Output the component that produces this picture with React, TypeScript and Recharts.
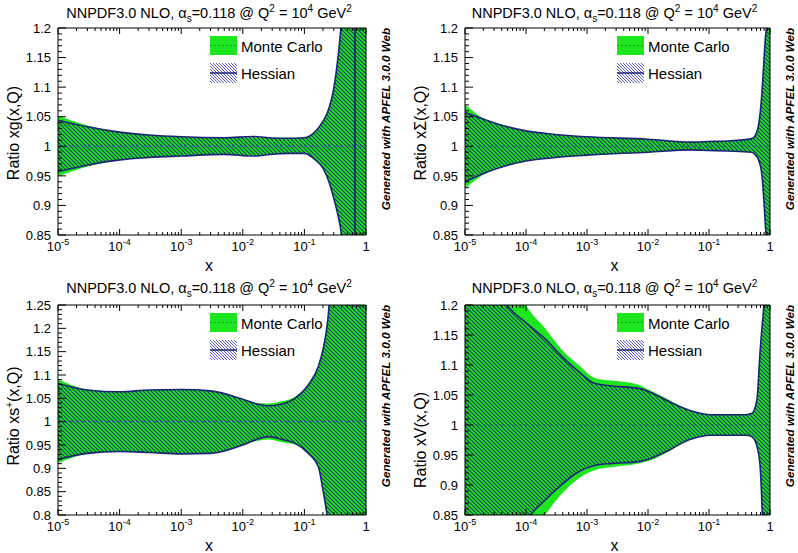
import React from "react";
import { ComposedChart, Area, XAxis, YAxis, ReferenceLine } from "recharts";

const FONT = '"Liberation Sans", Arial, Helvetica, sans-serif';
const GREEN = "#1ee61e";
const GREEN_DARK = "#0e9a2a";
const NAVY = "#1b2474";
const HATCH = "#173d62";
const CENTER_LINE = "#3a48b0";

// x axis (log): decades and minor steps
const DECADES = [1e-5, 1e-4, 1e-3, 1e-2, 1e-1, 1];
const MINOR_STEPS = [2, 3, 4, 5, 6, 7, 8, 9];
const X_TICKS = DECADES.concat(
  DECADES.slice(0, -1).flatMap((d) => MINOR_STEPS.map((m) => d * m))
);
const CENTRAL_VALUE = 1;

// --- gluon xg ---
const G_X = [1e-5, 3e-5, 1e-4, 3e-4, 1e-3, 5e-3, 1.5e-2, 3e-2, 5e-2, 0.1, 0.15, 0.2, 0.25, 0.3, 0.35, 0.4, 0.45, 0.55, 0.66, 1];
const G_MC_LO = [0.949, 0.966, 0.977, 0.981, 0.9835, 0.9864, 0.985, 0.9865, 0.988, 0.988, 0.977, 0.963, 0.94, 0.912, 0.884, 0.85, 0.79, 0.6, 0.3, 0.3];
const G_MC_HI = [1.052, 1.035, 1.024, 1.019, 1.016, 1.0145, 1.015, 1.014, 1.0135, 1.0145, 1.025, 1.042, 1.064, 1.098, 1.149, 1.215, 1.33, 1.6, 2.0, 2.0];
const G_H_LO = [0.957, 0.968, 0.977, 0.981, 0.9835, 0.9864, 0.9835, 0.9865, 0.988, 0.988, 0.977, 0.963, 0.94, 0.912, 0.884, 0.85, 0.79, 0.6, 0.3, 0.3];
const G_H_HI = [1.044, 1.033, 1.024, 1.019, 1.016, 1.0145, 1.0165, 1.014, 1.0135, 1.0145, 1.025, 1.042, 1.064, 1.098, 1.149, 1.215, 1.33, 1.6, 2.0, 2.0];
const G_POLE_X = 0.66;
const G_Y_TICKS = [0.85, 0.9, 0.95, 1, 1.05, 1.1, 1.15, 1.2];

// --- singlet xSigma ---
const S_X = [1e-5, 2e-5, 5e-5, 1e-4, 3e-4, 1e-3, 1e-2, 5e-2, 0.1, 0.2, 0.5, 0.58, 0.65, 0.74, 0.79, 0.84, 0.89, 0.95, 1];
const S_MC_LO = [0.929, 0.952, 0.968, 0.975, 0.981, 0.985, 0.99, 0.994, 0.993, 0.992, 0.99, 0.985, 0.977, 0.95, 0.912, 0.867, 0.82, 0.6, 0.3];
const S_MC_HI = [1.071, 1.047, 1.033, 1.026, 1.02, 1.016, 1.012, 1.007, 1.008, 1.009, 1.013, 1.019, 1.036, 1.092, 1.14, 1.183, 1.21, 1.5, 2.0];
const S_H_LO = [0.94, 0.954, 0.968, 0.975, 0.981, 0.985, 0.99, 0.994, 0.993, 0.992, 0.99, 0.985, 0.977, 0.95, 0.912, 0.867, 0.82, 0.6, 0.3];
const S_H_HI = [1.057, 1.046, 1.033, 1.026, 1.02, 1.016, 1.012, 1.007, 1.008, 1.009, 1.013, 1.019, 1.036, 1.092, 1.14, 1.183, 1.21, 1.5, 2.0];
const S_Y_TICKS = [0.85, 0.9, 0.95, 1, 1.05, 1.1, 1.15, 1.2];

// --- strange xs+ ---
const SP_X = [1e-5, 3e-5, 1e-4, 3e-4, 1e-3, 3e-3, 1e-2, 1.6e-2, 2.6e-2, 4.3e-2, 7e-2, 0.116, 0.168, 0.2, 0.24, 0.3, 0.5, 1];
const SP_MC_LO = [0.911, 0.931, 0.936, 0.934, 0.931, 0.932, 0.95, 0.958, 0.962, 0.956, 0.951, 0.932, 0.904, 0.854, 0.79, 0.7, 0.3, 0.3];
const SP_MC_HI = [1.091, 1.069, 1.064, 1.068, 1.069, 1.066, 1.048, 1.04, 1.039, 1.044, 1.053, 1.079, 1.118, 1.154, 1.218, 1.4, 2.0, 2.0];
const SP_H_LO = [0.919, 0.932, 0.936, 0.934, 0.931, 0.932, 0.95, 0.961, 0.968, 0.962, 0.954, 0.932, 0.904, 0.854, 0.79, 0.7, 0.3, 0.3];
const SP_H_HI = [1.082, 1.068, 1.064, 1.068, 1.069, 1.066, 1.048, 1.039, 1.034, 1.038, 1.05, 1.079, 1.118, 1.154, 1.218, 1.4, 2.0, 2.0];
const SP_Y_TICKS = [0.8, 0.85, 0.9, 0.95, 1, 1.05, 1.1, 1.15, 1.2, 1.25];

// --- valence xV ---
const V_X = [1e-5, 2e-5, 4.9e-5, 1.04e-4, 2.07e-4, 3.9e-4, 7.3e-4, 1.37e-3, 2.57e-3, 7e-3, 1.02e-2, 2.2e-2, 4.6e-2, 0.11, 0.4, 0.5, 0.61, 0.69, 0.75, 0.79, 0.9, 1];
const V_MC_LO = [0.5, 0.58, 0.7, 0.8, 0.85, 0.886, 0.911, 0.925, 0.93, 0.936, 0.94, 0.956, 0.975, 0.983, 0.983, 0.981, 0.965, 0.93, 0.85, 0.78, 0.5, 0.3];
const V_MC_HI = [1.45, 1.38, 1.27, 1.197, 1.161, 1.125, 1.1, 1.078, 1.074, 1.067, 1.059, 1.042, 1.025, 1.017, 1.017, 1.019, 1.042, 1.125, 1.17, 1.2, 1.6, 2.0];
const V_H_LO = [0.6, 0.67, 0.77, 0.842, 0.875, 0.901, 0.922, 0.933, 0.936, 0.939, 0.943, 0.958, 0.975, 0.983, 0.983, 0.981, 0.965, 0.93, 0.85, 0.78, 0.5, 0.3];
const V_H_HI = [1.36, 1.28, 1.2, 1.169, 1.143, 1.114, 1.089, 1.069, 1.065, 1.061, 1.056, 1.039, 1.025, 1.017, 1.017, 1.019, 1.042, 1.125, 1.17, 1.2, 1.6, 2.0];
const V_Y_TICKS = [0.85, 0.9, 0.95, 1, 1.05, 1.1, 1.15, 1.2];

function rows(xs: number[], mcLo: number[], mcHi: number[], hLo: number[], hHi: number[]) {
  return xs.map((x, i) => ({ x, mc: [mcLo[i], mcHi[i]], hes: [hLo[i], hHi[i]] }));
}

const PANEL_W = 399;
const PANEL_H = 277;
const Y_AXIS_W = 40;
const X_AXIS_H = 24;
const TOP_AXIS_H = 4;
const RIGHT_AXIS_W = 4;
const TICK_FONT = 13;

const isDecade = (v: number) => DECADES.some((d) => Math.abs(v / d - 1) < 1e-6);

function bottomTick(props: any) {
  const { x, y, payload } = props;
  const v = payload.value;
  const major = isDecade(v);
  const exp = Math.round(Math.log10(v));
  return (
    <g>
      <line x1={x} x2={x} y1={y} y2={y - (major ? 6 : 3)} stroke="#000" />
      {major && (
        <text x={x} y={y + 16} textAnchor="middle" fontFamily={FONT} fontSize={TICK_FONT} fill="#000">
          {exp === 0 ? "1" : (
            <>
              10<tspan dy={-6} fontSize={9}>{exp}</tspan>
            </>
          )}
        </text>
      )}
    </g>
  );
}

function topTick(props: any) {
  const { x, y, payload } = props;
  const major = isDecade(payload.value);
  return <line x1={x} x2={x} y1={y} y2={y + (major ? 6 : 3)} stroke="#000" />;
}

function leftTick(majors: number[]) {
  return (props: any) => {
    const { x, y, payload } = props;
    const v = payload.value;
    const major = majors.some((m) => Math.abs(m - v) < 1e-6);
    return (
      <g>
        <line x1={x} x2={x + (major ? 8 : 4)} y1={y} y2={y} stroke="#000" />
        {major && (
          <text x={x - 7} y={y} dy="0.36em" textAnchor="end" fontFamily={FONT} fontSize={TICK_FONT} fill="#000">
            {String(v)}
          </text>
        )}
      </g>
    );
  };
}

function minorTicks(majors: number[]) {
  const lo = Math.round(majors[0] * 100);
  const hi = Math.round(majors[majors.length - 1] * 100);
  const out: number[] = [];
  for (let i = lo; i <= hi; i++) out.push(i / 100);
  return out;
}

const supStyle: React.CSSProperties = { fontSize: 10, position: "relative", top: -6 };
const subStyle: React.CSSProperties = { fontSize: 10, position: "relative", top: 4 };

function Title({ cx, cy }: { cx: number; cy: number }) {
  return (
    <div style={{ position: "absolute", left: cx, top: cy, transform: "translate(-50%,-50%)", whiteSpace: "nowrap", fontSize: 14.5, lineHeight: 1 }}>
      NNPDF3.0 NLO, α<span style={subStyle}>s</span>=0.118 @ Q<span style={supStyle}>2</span> = 10<span style={supStyle}>4</span> GeV<span style={supStyle}>2</span>
    </div>
  );
}

function Legend({ left, top, id }: { left: number; top: number; id: string }) {
  return (
    <>
      <svg style={{ position: "absolute", left, top }} width={27} height={19}>
        <rect x={0} y={0} width={27} height={19} fill={GREEN} />
        <line x1={0} x2={27} y1={9.5} y2={9.5} stroke={GREEN_DARK} strokeDasharray="2 2" />
      </svg>
      <div style={{ position: "absolute", left: left + 31, top: top + 9.5, transform: "translateY(-50%)", fontSize: 15, lineHeight: 1, whiteSpace: "nowrap" }}>
        Monte Carlo
      </div>
      <svg style={{ position: "absolute", left, top: top + 27 }} width={27} height={20}>
        <defs>
          <pattern id={id} patternUnits="userSpaceOnUse" width={3} height={3}>
            <path d="M-1,-1 L4,4 M2,-1 L4,1 M-1,2 L1,4" stroke="#4848d0" strokeWidth={0.9} />
          </pattern>
        </defs>
        <rect x={0} y={0} width={27} height={20} fill={`url(#${id})`} />
        <line x1={0} x2={27} y1={10} y2={10} stroke={NAVY} strokeWidth={1.5} />
      </svg>
      <div style={{ position: "absolute", left: left + 31, top: top + 37, transform: "translateY(-50%)", fontSize: 15, lineHeight: 1, whiteSpace: "nowrap" }}>
        Hessian
      </div>
    </>
  );
}

interface PanelProps {
  id: string;
  ox: number;
  oy: number;
  plot: [number, number, number, number];
  data: { x: number; mc: number[]; hes: number[] }[];
  yTicks: number[];
  yLabel: React.ReactNode;
  yLabelCy: number;
  poleX?: number;
}

function Panel({ id, ox, oy, plot, data, yTicks, yLabel, yLabelCy, poleX }: PanelProps) {
  const [x0, y0, x1, y1] = plot;
  const margin = {
    left: x0 - ox - Y_AXIS_W,
    top: y0 - oy - TOP_AXIS_H,
    right: ox + PANEL_W - x1 - RIGHT_AXIS_W,
    bottom: oy + PANEL_H - y1 - X_AXIS_H,
  };
  const yDomain = [yTicks[0], yTicks[yTicks.length - 1]];
  const cx = (x0 + x1) / 2 - 3;
  return (
    <>
      <div style={{ position: "absolute", left: ox, top: oy }}>
        <ComposedChart width={PANEL_W} height={PANEL_H} data={data} margin={margin}>
          <defs>
            <pattern id={`hatch-${id}`} patternUnits="userSpaceOnUse" width={4} height={4}>
              <path d="M-1,-1 L5,5 M3,-1 L5,1 M-1,3 L1,5" stroke={HATCH} strokeWidth={1.2} />
            </pattern>
          </defs>
          <Area dataKey="mc" type="monotone" fill={GREEN} fillOpacity={1} stroke="none" isAnimationActive={false} dot={false} activeDot={false} />
          <Area dataKey="hes" type="monotone" fill={`url(#hatch-${id})`} fillOpacity={1} stroke={NAVY} strokeWidth={1.6} isAnimationActive={false} dot={false} activeDot={false} />
          <ReferenceLine y={CENTRAL_VALUE} stroke={CENTER_LINE} strokeDasharray="3 3" strokeWidth={1} />
          {poleX !== undefined && <ReferenceLine x={poleX} stroke={NAVY} strokeWidth={1.6} />}
          <XAxis dataKey="x" type="number" scale="log" domain={[1e-5, 1]} allowDataOverflow ticks={X_TICKS} interval={0} tickSize={0} tickMargin={0} tickLine={false} tick={bottomTick} height={X_AXIS_H} axisLine={{ stroke: "#000" }} />
          <XAxis xAxisId="top" orientation="top" dataKey="x" type="number" scale="log" domain={[1e-5, 1]} allowDataOverflow ticks={X_TICKS} interval={0} tickSize={0} tickMargin={0} tickLine={false} tick={topTick} height={TOP_AXIS_H} axisLine={{ stroke: "#000" }} />
          <YAxis type="number" domain={yDomain} allowDataOverflow ticks={minorTicks(yTicks)} interval={0} tickSize={0} tickMargin={0} tickLine={false} tick={leftTick(yTicks)} width={Y_AXIS_W} axisLine={{ stroke: "#000" }} />
          <YAxis yAxisId="right" orientation="right" type="number" domain={yDomain} allowDataOverflow tick={false} tickLine={false} width={RIGHT_AXIS_W} axisLine={{ stroke: "#000" }} />
        </ComposedChart>
      </div>
      <Title cx={cx} cy={oy + (oy === 0 ? 13 : 12)} />
      <Legend left={x0 + 152} top={y0 + 8} id={`leg-${id}`} />
      <div style={{ position: "absolute", left: x0 - 44, top: yLabelCy, transform: "translate(-50%,-50%) rotate(-90deg)", fontSize: 16, whiteSpace: "nowrap", lineHeight: 1 }}>
        {yLabel}
      </div>
      <div style={{ position: "absolute", left: cx, top: y1 + 31, transform: "translate(-50%,-50%)", fontSize: 16, lineHeight: 1 }}>x</div>
      <div style={{ position: "absolute", left: x1 + 20, top: y0 + 91, transform: "translate(-50%,-50%) rotate(-90deg)", fontSize: 11.7, fontWeight: "bold", fontStyle: "italic", whiteSpace: "nowrap", lineHeight: 1 }}>
        Generated with APFEL 3.0.0 Web
      </div>
    </>
  );
}

export default function App() {
  return (
    <div style={{ position: "relative", width: 798, height: 553, background: "#fff", fontFamily: FONT, color: "#000", overflow: "hidden" }}>
      <style>{"body{margin:0}"}</style>
      <Panel id="g" ox={0} oy={0} plot={[58, 28, 366, 235]} data={rows(G_X, G_MC_LO, G_MC_HI, G_H_LO, G_H_HI)} yTicks={G_Y_TICKS} yLabel="Ratio xg(x,Q)" yLabelCy={133} poleX={G_POLE_X} />
      <Panel id="s" ox={399} oy={0} plot={[465, 28, 770, 235]} data={rows(S_X, S_MC_LO, S_MC_HI, S_H_LO, S_H_HI)} yTicks={S_Y_TICKS} yLabel="Ratio xΣ(x,Q)" yLabelCy={133} />
      <Panel id="sp" ox={0} oy={276} plot={[58, 305, 366, 515]} data={rows(SP_X, SP_MC_LO, SP_MC_HI, SP_H_LO, SP_H_HI)} yTicks={SP_Y_TICKS} yLabel={<>Ratio xs<span style={supStyle}>+</span>(x,Q)</>} yLabelCy={416} />
      <Panel id="v" ox={399} oy={276} plot={[465, 305, 770, 515]} data={rows(V_X, V_MC_LO, V_MC_HI, V_H_LO, V_H_HI)} yTicks={V_Y_TICKS} yLabel="Ratio xV(x,Q)" yLabelCy={440} />
    </div>
  );
}
